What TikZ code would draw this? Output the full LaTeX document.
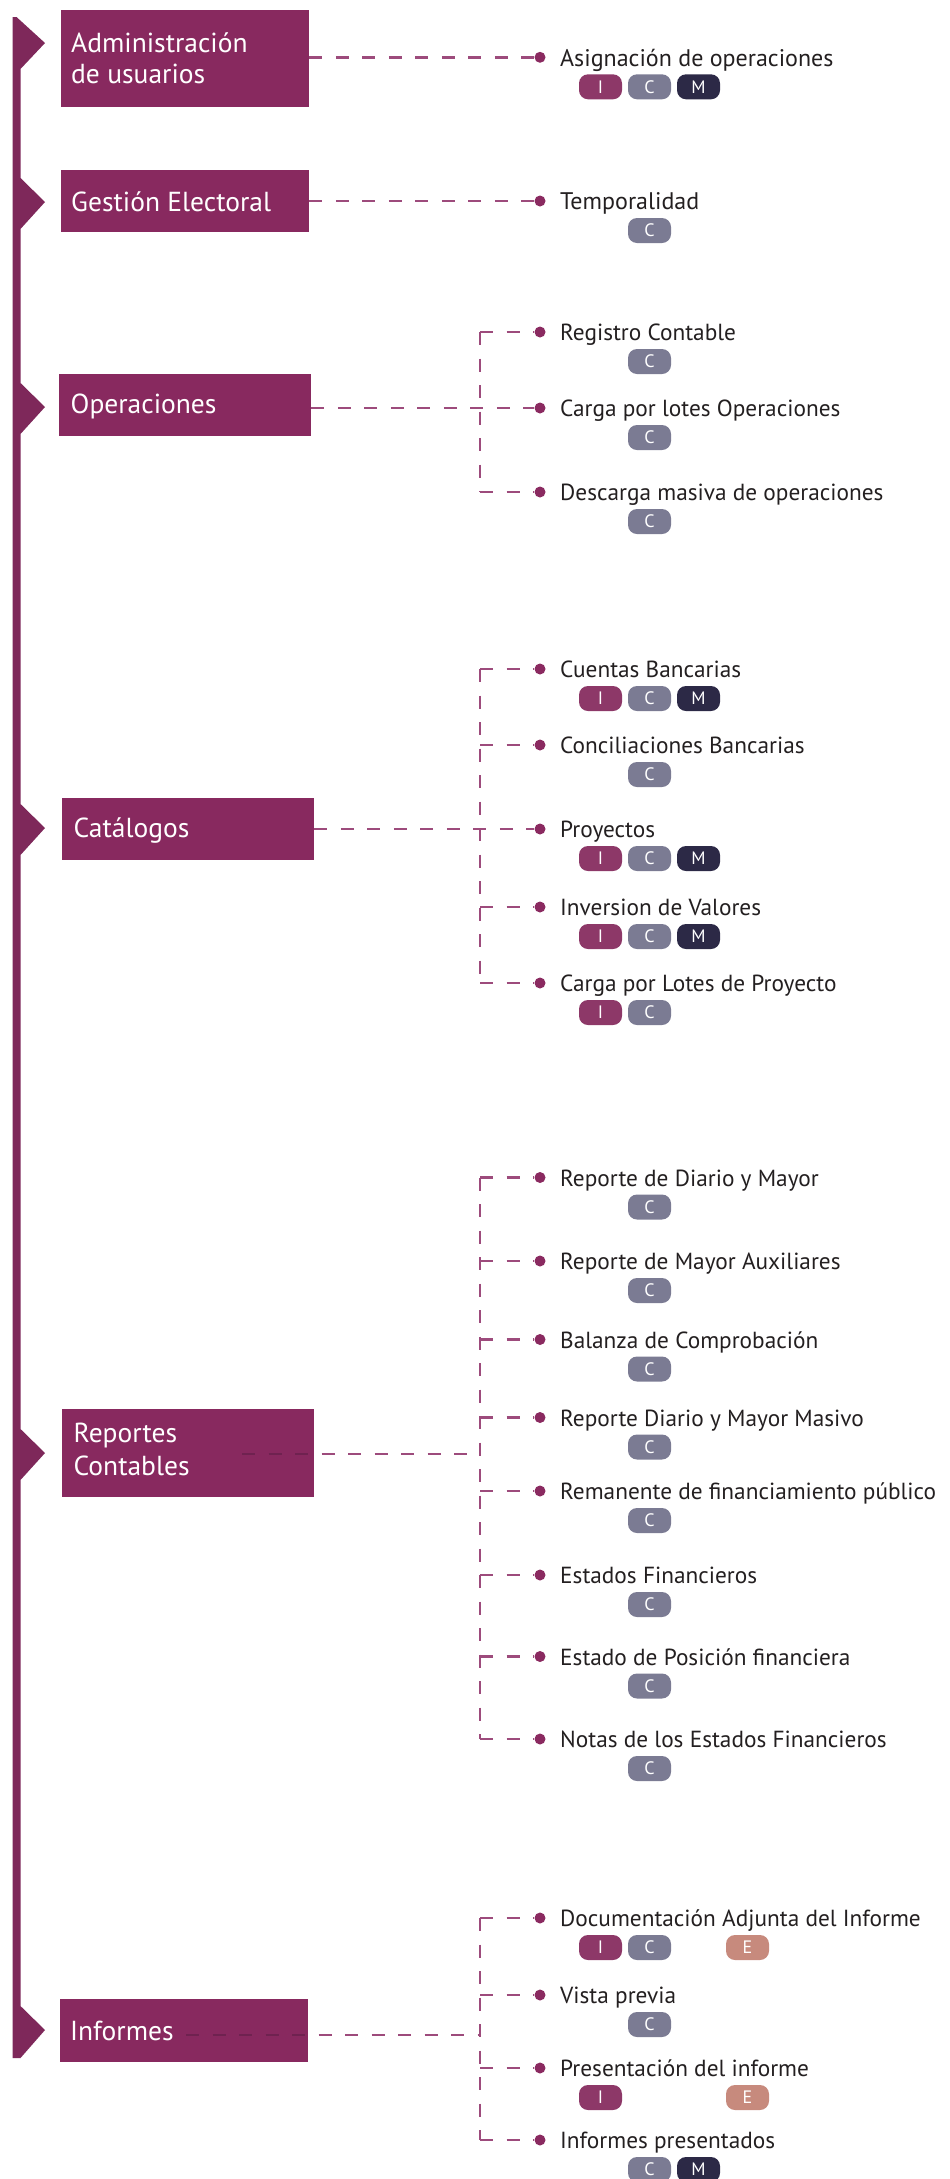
\documentclass[tikz,border=0pt]{standalone}
\usepackage{fontspec}
\setmainfont{PT Sans}
\usetikzlibrary{calc}
\pgfdeclarelayer{bg}
\pgfsetlayers{bg,main}
\definecolor{boxc}{HTML}{88295F}
\definecolor{barc}{HTML}{7E285A}
\definecolor{dashc}{HTML}{9D4B7C}
\definecolor{dashin}{HTML}{6F2250}
\definecolor{dotc}{HTML}{8A2A60}
\definecolor{txtc}{HTML}{231F20}
\definecolor{bI}{HTML}{8D3868}
\definecolor{bC}{HTML}{7B7B93}
\definecolor{bM}{HTML}{2C2946}
\definecolor{bE}{HTML}{C78A7D}
\tikzset{
 mainbox/.style={fill=boxc, draw=none, inner sep=0pt, anchor=north west},
 boxtext/.style={text=white, anchor=base west, inner sep=0pt, font=\fontsize{27.5}{32}\selectfont},
 conn/.style={draw=dashc, line width=2.4pt, dash pattern=on 13pt off 13.5pt},
 connin/.style={conn, draw=dashin},
 dotn/.style={circle, fill=dotc, inner sep=0pt, minimum size=11pt},
 item/.style={text=txtc, anchor=base west, inner sep=0pt, font=\fontsize{23.3}{28}\selectfont},
 itembig/.style={item, font=\fontsize{24}{29}\selectfont},
 badge/.style={rounded corners=9pt, minimum width=43pt, minimum height=25pt, inner sep=0pt, text=white, font=\fontsize{18}{21}\selectfont},
}
% item: name, y, text, style
\newcommand\mkitem[4]{%
  \node[dotn] (d#1) at (540,#2) {};
  \node[#4] (t#1) at (560,{#2+8.7}) {#3};}
% badge: letter, name, x, item y
\newcommand\mkbadge[4]{\node[badge, fill=b#1] (#2) at (#3,{#4+29.5}) {#1};}
\begin{document}
\begin{tikzpicture}[x=1pt,y=-1pt]
\useasboundingbox (0,0) rectangle (950,2179);
% timeline bar with chevrons
\fill[barc] (12.5,17) -- (16.5,17) -- (45,43) -- (20.5,69) -- (20.5,178) -- (45,202) -- (20.5,229)
  -- (20.5,383) -- (45,407) -- (20.5,434) -- (20.5,804) -- (45,828) -- (20.5,855)
  -- (20.5,1429) -- (45,1453) -- (20.5,1480) -- (20.5,2006) -- (45,2030) -- (20.5,2058)
  -- (12.5,2058) -- cycle;
% main boxes
\node[mainbox, minimum width=248pt, minimum height=97pt] (adm) at (61,10) {};
\node[boxtext] (admA) at (71,52) {Administración};
\node[boxtext] (admB) at (71,83.3) {de usuarios};
\node[mainbox, minimum width=248pt, minimum height=62pt] (ges) at (61,170) {};
\node[boxtext] (gesT) at (71,211) {Gestión Electoral};
\node[mainbox, minimum width=252pt, minimum height=62pt] (ope) at (59,374) {};
\node[boxtext] (opeT) at (70.5,413) {Operaciones};
\node[mainbox, minimum width=252pt, minimum height=62pt] (cat) at (62,798) {};
\node[boxtext] (catT) at (73.5,837) {Catálogos};
\node[mainbox, minimum width=252pt, minimum height=88pt] (rep) at (62,1409) {};
\node[boxtext] (repA) at (73.5,1442) {Reportes};
\node[boxtext] (repB) at (73.5,1475) {Contables};
\node[mainbox, minimum width=248pt, minimum height=63pt] (inf) at (60,1999) {};
\node[boxtext] (infT) at (70,2040) {Informes};
% items
\mkitem{A1}{57.3}{Asignación de operaciones}{itembig}
\mkbadge{I}{A1i}{600.5}{57.3}\mkbadge{C}{A1c}{649.5}{57.3}\mkbadge{M}{A1m}{698.5}{57.3}
\mkitem{G1}{201}{Temporalidad}{itembig}
\mkbadge{C}{G1c}{649.5}{201}
\mkitem{O1}{332}{Registro Contable}{item}
\mkbadge{C}{O1c}{649.5}{332}
\mkitem{O2}{408}{Carga por lotes Operaciones}{item}
\mkbadge{C}{O2c}{649.5}{408}
\mkitem{O3}{492}{Descarga masiva de operaciones}{item}
\mkbadge{C}{O3c}{649.5}{492}
\mkitem{C1}{669}{Cuentas Bancarias}{item}
\mkbadge{I}{C1i}{600.5}{669}\mkbadge{C}{C1c}{649.5}{669}\mkbadge{M}{C1m}{698.5}{669}
\mkitem{C2}{745}{Conciliaciones Bancarias}{item}
\mkbadge{C}{C2c}{649.5}{745}
\mkitem{C3}{829}{Proyectos}{item}
\mkbadge{I}{C3i}{600.5}{829}\mkbadge{C}{C3c}{649.5}{829}\mkbadge{M}{C3m}{698.5}{829}
\mkitem{C4}{907}{Inversion de Valores}{item}
\mkbadge{I}{C4i}{600.5}{907}\mkbadge{C}{C4c}{649.5}{907}\mkbadge{M}{C4m}{698.5}{907}
\mkitem{C5}{983}{Carga por Lotes de Proyecto}{item}
\mkbadge{I}{C5i}{600.5}{983}\mkbadge{C}{C5c}{649.5}{983}
\mkitem{R1}{1177.5}{Reporte de Diario y Mayor}{item}
\mkbadge{C}{R1c}{649.5}{1177.5}
\mkitem{R2}{1261}{Reporte de Mayor Auxiliares}{item}
\mkbadge{C}{R2c}{649.5}{1261}
\mkitem{R3}{1339.5}{Balanza de Comprobación}{item}
\mkbadge{C}{R3c}{649.5}{1339.5}
\mkitem{R4}{1417.5}{Reporte Diario y Mayor Masivo}{item}
\mkbadge{C}{R4c}{649.5}{1417.5}
\mkitem{R5}{1491}{Remanente de financiamiento público}{item}
\mkbadge{C}{R5c}{649.5}{1491}
\mkitem{R6}{1575}{Estados Financieros}{item}
\mkbadge{C}{R6c}{649.5}{1575}
\mkitem{R7}{1656.5}{Estado de Posición financiera}{item}
\mkbadge{C}{R7c}{649.5}{1656.5}
\mkitem{R8}{1739}{Notas de los Estados Financieros}{item}
\mkbadge{C}{R8c}{649.5}{1739}
\mkitem{F1}{1918}{Documentación Adjunta del Informe}{item}
\mkbadge{I}{F1i}{600.5}{1918}\mkbadge{C}{F1c}{649.5}{1918}\mkbadge{E}{F1e}{747.5}{1918}
\mkitem{F2}{1995}{Vista previa}{item}
\mkbadge{C}{F2c}{649.5}{1995}
\mkitem{F3}{2068}{Presentación del informe}{item}
\mkbadge{I}{F3i}{600.5}{2068}\mkbadge{E}{F3e}{747.5}{2068}
\mkitem{F4}{2140}{Informes presentados}{item}
\mkbadge{C}{F4c}{649.5}{2140}\mkbadge{M}{F4m}{698.5}{2140}
% trunk positions and inner starts
\coordinate (tx) at (480,0);
\coordinate (repS) at (242,1454);
\coordinate (infS) at (186,2035);
% connectors
\begin{pgfonlayer}{bg}
\draw[conn] (adm.east |- dA1) -- (dA1);
\draw[conn] (ges.east |- dG1) -- (dG1);
\draw[conn] (ope.east |- dO2) -- (dO2);
\draw[conn] (dO1 -| tx) -- (dO3 -| tx);
\draw[conn] (dO1 -| tx) -- (dO1);
\draw[conn] (dO3 -| tx) -- (dO3);
\draw[conn] (cat.east |- dC3) -- (dC3);
\draw[conn] (dC1 -| tx) -- (dC5 -| tx);
\foreach \n in {C1,C2,C4,C5} \draw[conn] (d\n -| tx) -- (d\n);
\draw[conn] (repS) -- (repS -| tx);
\draw[conn] (dR1 -| tx) -- (dR8 -| tx);
\foreach \n in {R1,R2,R3,R4,R5,R6,R7,R8} \draw[conn] (d\n -| tx) -- (d\n);
\draw[conn] (infS) -- (infS -| tx);
\draw[conn] (dF1 -| tx) -- (dF4 -| tx);
\foreach \n in {F1,F2,F3,F4} \draw[conn] (d\n -| tx) -- (d\n);
\end{pgfonlayer}
\draw[connin] (repS) -- (repS -| rep.east);
\draw[connin] (infS) -- (infS -| inf.east);
\end{tikzpicture}
\end{document}
